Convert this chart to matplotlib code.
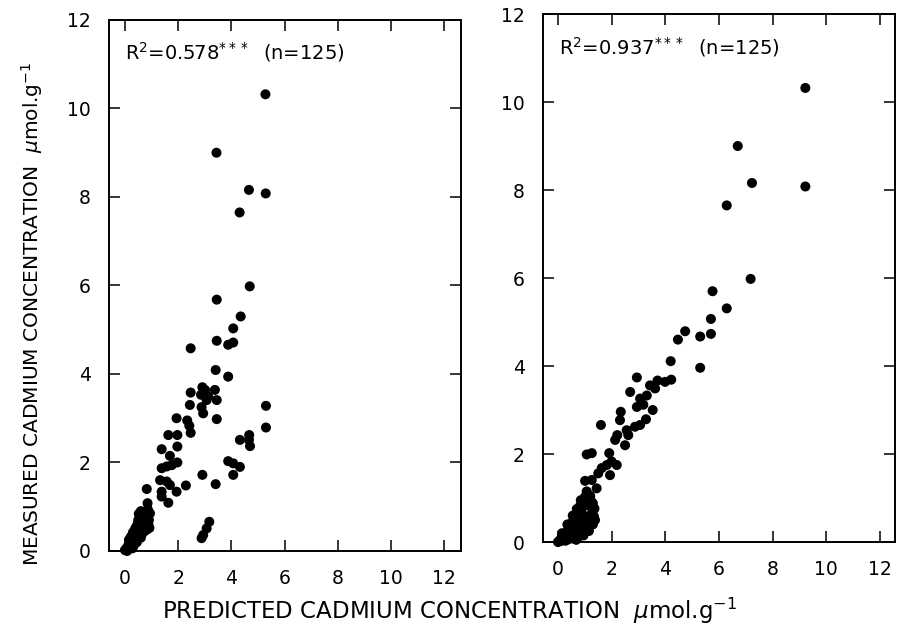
import matplotlib
matplotlib.use("Agg")
import matplotlib.pyplot as plt

plt.rcParams["font.family"] = ["DejaVu Sans"]
plt.rcParams["mathtext.fontset"] = "dejavusans"

# ---- Model 1: predicted vs measured Cd (umol/g) ----
pred_1 = [
    5.28, 3.44, 4.66, 5.29, 4.31, 4.69,
    3.45, 4.35, 4.07, 3.45, 3.88, 4.07, 2.47, 3.41, 3.88,
    2.91, 3.01, 2.86, 3.13, 3.38, 3.07, 3.45, 2.88, 2.94,
    2.47, 2.44, 5.30, 3.45, 1.94,
    2.34, 2.42, 2.47, 5.30,
    1.63, 1.97,
    4.32, 4.67, 4.66, 4.70,
    1.97, 1.38, 1.69, 1.97,
    1.38, 1.57, 1.76,
    3.88, 4.07, 4.32, 4.07,
    2.91, 1.32, 1.57, 1.69, 3.41, 2.29, 1.94, 1.38, 1.38, 1.63,
    0.82, 0.85, 3.17, 3.07, 2.94, 2.88,
    0.00, 0.05, 0.08, 0.10, 0.12, 0.15, 0.18, 0.20, 0.22, 0.25,
    0.27, 0.28, 0.30, 0.32, 0.33, 0.35, 0.36, 0.38, 0.40, 0.40,
    0.42, 0.43, 0.45, 0.46, 0.48, 0.48, 0.50, 0.50, 0.52, 0.53,
    0.52, 0.55, 0.57, 0.58, 0.60, 0.60, 0.62, 0.65, 0.66, 0.70,
    0.70, 0.72, 0.74, 0.75, 0.78, 0.80, 0.82, 0.85, 0.88, 0.90,
    0.92, 0.94, 0.22, 0.30, 0.38, 0.15, 0.60, 0.45, 0.86,
]
meas_1 = [
    10.32, 9.00, 8.16, 8.08, 7.65, 5.98,
    5.68, 5.30, 5.03, 4.75, 4.66, 4.71, 4.58, 4.09, 3.94,
    3.70, 3.64, 3.53, 3.49, 3.64, 3.41, 3.41, 3.25, 3.11,
    3.58, 3.30, 3.28, 2.98, 3.00,
    2.95, 2.83, 2.67, 2.79,
    2.62, 2.62,
    2.51, 2.62, 2.51, 2.37,
    2.36, 2.30, 2.15, 2.00,
    1.87, 1.91, 1.94,
    2.03, 1.98, 1.90, 1.72,
    1.72, 1.60, 1.57, 1.49, 1.51, 1.48, 1.34, 1.34, 1.23, 1.09,
    1.40, 1.08, 0.66, 0.51, 0.36, 0.29,
    0.02, 0.05, 0.00, 0.10, 0.04, 0.15, 0.08, 0.22, 0.12, 0.28,
    0.18, 0.06, 0.32, 0.22, 0.12, 0.38, 0.28, 0.18, 0.45, 0.34,
    0.25, 0.55, 0.40, 0.30, 0.62, 0.48, 0.36, 0.70, 0.55, 0.44,
    0.84, 0.62, 0.50, 0.38, 0.90, 0.56, 0.46, 0.60, 0.40, 0.88,
    0.52, 0.62, 0.45, 0.80, 0.55, 0.68, 0.48, 0.80, 0.60, 0.70,
    0.52, 0.85, 0.32, 0.42, 0.50, 0.25, 0.30, 0.20, 0.94,
]

# ---- Model 2: predicted vs measured Cd (umol/g) ----
pred_2 = [
    9.22, 6.70, 7.23, 9.22, 6.29, 7.18, 5.76,
    6.29, 5.70, 5.70, 5.30, 4.74, 4.47, 5.30, 4.20, 4.22,
    3.99, 3.71, 3.43, 3.62,
    2.94, 2.69, 3.06, 2.94, 3.18, 3.31,
    3.53, 2.34, 2.31, 1.60,
    3.28, 3.06, 2.87,
    2.56, 2.62, 2.21, 2.50, 2.13,
    1.07, 1.26,
    1.91, 2.00, 1.82, 2.19, 1.63, 1.94, 1.50,
    1.01, 1.26, 1.44, 1.07,
    0.00, 0.05, 0.10, 0.12, 0.18, 0.20, 0.25, 0.28, 0.30, 0.33,
    0.36, 0.38, 0.40, 0.42, 0.45, 0.46, 0.48, 0.50, 0.52, 0.54,
    0.56, 0.58, 0.60, 0.60, 0.62, 0.64, 0.66, 0.67, 0.70, 0.72,
    0.73, 0.75, 0.76, 0.78, 0.80, 0.80, 0.82, 0.84, 0.86, 0.88,
    0.88, 0.88, 0.92, 0.94, 0.96, 0.97, 1.00, 1.02, 1.05, 1.08,
    1.10, 1.12, 1.15, 1.18, 1.20, 1.22, 1.25, 1.28, 1.30, 1.34,
    1.36, 1.38, 1.20, 0.98, 0.68, 0.15, 0.35, 0.55, 0.70, 0.85,
    1.00, 1.30, 1.15, 0.95,
]
meas_2 = [
    10.32, 9.00, 8.16, 8.08, 7.65, 5.98, 5.70,
    5.31, 5.07, 4.73, 4.67, 4.79, 4.60, 3.96, 4.11, 3.69,
    3.64, 3.67, 3.56, 3.49,
    3.74, 3.41, 3.26, 3.07, 3.12, 3.33,
    3.00, 2.96, 2.77, 2.66,
    2.79, 2.66, 2.62,
    2.54, 2.43, 2.43, 2.20, 2.32,
    1.99, 2.02,
    2.02, 1.83, 1.75, 1.75, 1.68, 1.52, 1.56,
    1.39, 1.41, 1.22, 1.15,
    0.00, 0.03, 0.02, 0.08, 0.05, 0.14, 0.10, 0.03, 0.20, 0.12,
    0.26, 0.06, 0.18, 0.32, 0.10, 0.24, 0.38, 0.16, 0.30, 0.46,
    0.08, 0.22, 0.36, 0.55, 0.14, 0.28, 0.44, 0.62, 0.20, 0.34,
    0.52, 0.70, 0.12, 0.26, 0.42, 0.80, 0.60, 0.18, 0.32, 0.50,
    0.88, 0.66, 0.24, 0.40, 0.56, 0.95, 0.30, 0.46, 0.92, 0.36,
    0.52, 1.00, 0.42, 0.60, 0.82, 0.95, 0.50, 0.68, 0.88, 0.58,
    0.76, 0.50, 1.05, 0.82, 0.05, 0.20, 0.40, 0.60, 0.75, 0.95,
    1.02, 0.40, 0.25, 0.15,
]

stats_1 = r"R$^{2}$=0.578$^{***}$  (n=125)"
stats_2 = r"R$^{2}$=0.937$^{***}$  (n=125)"

ticks = [0, 2, 4, 6, 8, 10, 12]
tick_labels = ["0", "2", "4", "6", "8", "10", "12"]

fig = plt.figure(figsize=(9, 6.4), dpi=100)
ax1 = fig.add_axes([0.1211, 0.1391, 0.3911, 0.8297])
ax2 = fig.add_axes([0.6033, 0.1531, 0.3911, 0.8250])

panels = [
    (ax1, pred_1, meas_1, stats_1, (-0.60, 12.63), 0.940),
    (ax2, pred_2, meas_2, stats_2, (-0.56, 12.56), 0.937),
]

for ax, px, my, stats, xlim, ty in panels:
    ax.scatter(px, my, s=52, c="black", edgecolors="none", zorder=3,
               clip_on=False)
    ax.set_xlim(*xlim)
    ax.set_ylim(0, 12)
    ax.set_xticks(ticks)
    ax.set_xticklabels(tick_labels)
    ax.set_yticks(ticks)
    ax.set_yticklabels(tick_labels)
    ax.tick_params(direction="in", length=8, width=1.1, top=True,
                   right=True, labelsize=13.5, pad=13, color="black")
    for sp in ax.spines.values():
        sp.set_linewidth(1.4)
    ax.text(0.045, ty, stats, transform=ax.transAxes, fontsize=14,
            ha="left", va="center")

fig.text(0.5, 0.046, r"PREDICTED CADMIUM CONCENTRATION  $\mu$mol.g$^{-1}$",
         ha="center", va="center", fontsize=16.5)
fig.text(0.036, 0.51, r"MEASURED CADMIUM CONCENTRATION  $\mu$mol.g$^{-1}$",
         ha="center", va="center", fontsize=14.5, rotation=90)

fig.savefig("out.png", dpi=100, facecolor="white")
